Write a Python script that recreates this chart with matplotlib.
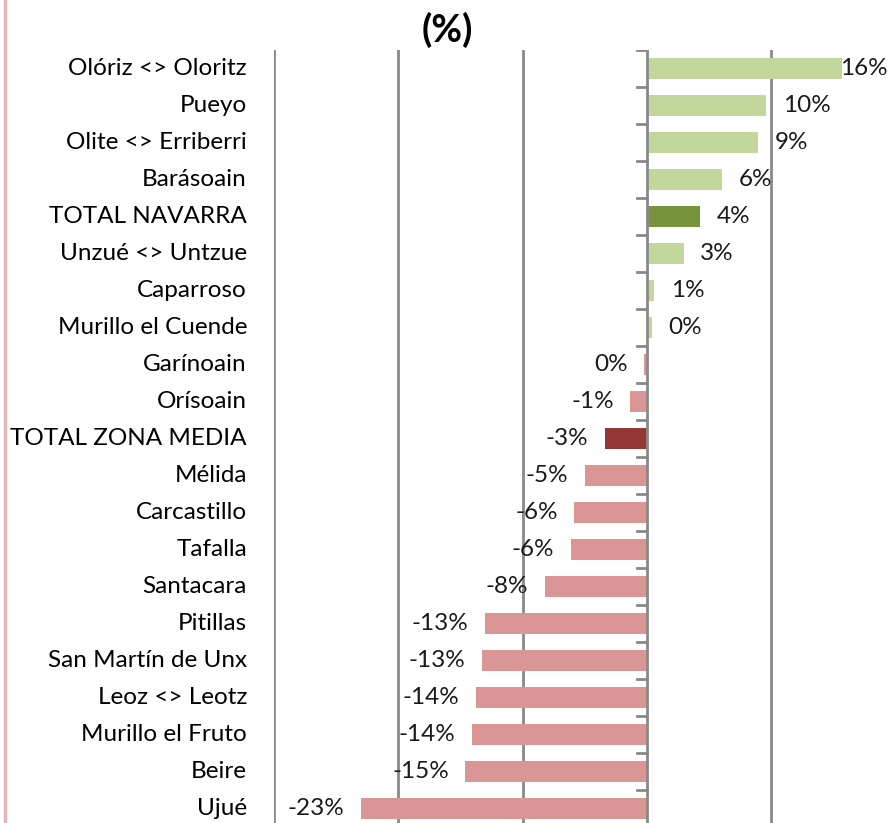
import matplotlib
matplotlib.use("Agg")
import matplotlib.pyplot as plt
from matplotlib.lines import Line2D
import matplotlib.transforms as mtransforms

categories = ["Olóriz <> Oloritz", "Pueyo", "Olite <> Erriberri", "Barásoain",
              "TOTAL NAVARRA", "Unzué <> Untzue", "Caparroso", "Murillo el Cuende",
              "Garínoain", "Orísoain", "TOTAL ZONA MEDIA", "Mélida", "Carcastillo",
              "Tafalla", "Santacara", "Pitillas", "San Martín de Unx", "Leoz <> Leotz",
              "Murillo el Fruto", "Beire", "Ujué"]
values = [15.7, 9.6, 8.9, 6.05, 4.25, 2.96, 0.6, 0.4,
          -0.2, -1.33, -3.36, -4.97, -5.83,
          -6.15, -8.19, -13.0, -13.3, -13.77,
          -14.1, -14.6, -22.98]
totals = ["TOTAL NAVARRA", "TOTAL ZONA MEDIA"]

C_POS, C_POS_T = "#C3D69B", "#77933C"
C_NEG, C_NEG_T = "#D99694", "#953735"
GRID = "#898989"
FONT = "Lato"
FS = 17.5

fig = plt.figure(figsize=(8.92, 8.23), dpi=100)
ax = fig.add_axes([274/892, (823-827)/823, 621.6/892, 777/823])

n = len(categories)
ypos = list(range(n))
colors = []
for c, v in zip(categories, values):
    if v >= 0:
        colors.append(C_POS_T if c in totals else C_POS)
    else:
        colors.append(C_NEG_T if c in totals else C_NEG)

ax.barh(ypos, values, height=0.59, color=colors, zorder=3)
ax.set_ylim(n - 0.5, -0.5)
ax.set_xlim(-30, 20)

for g in [-30, -20, -10, 10]:
    ax.axvline(g, color=GRID, lw=2, zorder=1)
ax.axvline(0, color=GRID, lw=2, zorder=4)

for s in ax.spines.values():
    s.set_visible(False)
ax.set_xticks([])
ax.set_yticks([])

# boundary ticks on the zero axis
for b in range(n + 1):
    y = b - 0.5
    p = ax.transData.transform((0, y))
    ax.add_line(Line2D([p[0] - 10, p[0]], [p[1], p[1]], transform=None,
                       color=GRID, lw=2, zorder=4))

# category labels
tl = mtransforms.blended_transform_factory(ax.transAxes, ax.transData)
for i, c in enumerate(categories):
    ax.text(-27/621.6, i, c, transform=tl, ha="right", va="center",
            fontsize=FS, family=FONT, color="#000000")

# value labels
fig.canvas.draw()
renderer = fig.canvas.get_renderer()
for i, v in enumerate(values):
    lbl = f"{round(v):.0f}%"
    if lbl == "-0%":
        lbl = "0%"
    if v >= 0:
        t = ax.annotate(lbl, (v, i), xytext=(12, 0), textcoords="offset points",
                        ha="left", va="center", fontsize=FS, family=FONT,
                        color="#1a1a1a", zorder=5)
    else:
        t = ax.annotate(lbl, (v, i), xytext=(-12, 0), textcoords="offset points",
                        ha="right", va="center", fontsize=FS, family=FONT,
                        color="#1a1a1a", zorder=5)
    bb = t.get_window_extent(renderer)
    if bb.x1 > fig.bbox.width - 4:
        shift = (bb.x1 - (fig.bbox.width - 4)) * 72 / fig.dpi
        t.set_position((12 - shift, 0))

fig.text(447/892, 1 - 30/823, "(%)", ha="center", va="center",
         fontsize=27, fontweight="bold", family=FONT)

fig.add_artist(Line2D([4.5/892, 4.5/892], [0, 1], transform=fig.transFigure,
                      color="#E6B9B8", lw=2.5))

fig.savefig("out.png", dpi=100)
